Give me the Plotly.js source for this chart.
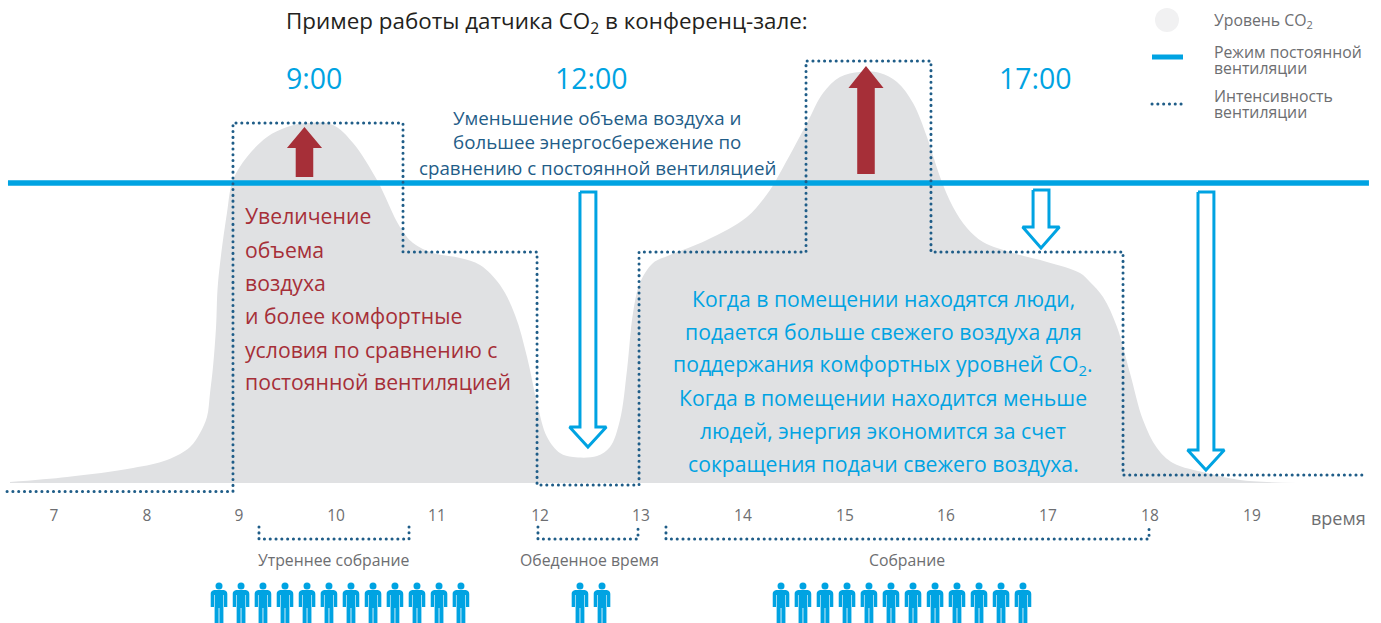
<!DOCTYPE html>
<html><head><meta charset="utf-8">
<script src="https://cdn.plot.ly/plotly-3.0.1.min.js"></script>
<style>
html,body{margin:0;padding:0;background:#fff}
#c{width:1381px;height:623px}
path.js-line[style*="0.1px"]{stroke-linecap:round}
</style></head><body><div id="c"></div>
<script>
// Data: x in hours on the chart's time scale, y = CO2 level (constant ventilation = 100)
const co2Hours=[6.804,7.363,8.010,8.343,8.569,8.667,8.735,8.765,8.794,8.824,8.843,8.931,8.990,9.127,9.324,9.520,9.716,9.971,10.167,10.402,10.627,10.755,10.951,11.216,11.412,11.608,11.755,11.873,11.971,12.069,12.196,12.324,12.559,12.686,12.784,12.853,12.912,12.980,13.108,13.275,13.637,14.029,14.255,14.353,14.618,14.775,14.941,15.137,15.333,15.5,15.657,15.794,15.922,16.049,16.186,16.343,16.637,16.971,17.294,17.392,17.520,17.657,17.784,17.912,18.049,18.206,18.539,18.863,19.422];
const co2Level=[0.33,2,5,7.67,12,16.67,22,30,38.67,52,66.67,90,101,108.67,115.33,118.67,120,119.33,113.33,101,85.33,80,76.67,75,72.67,66,56,42,26.67,15.33,10,8.67,9,12,21,37.67,56.67,66.67,73.33,76,81,88.67,97.67,103.33,120,130,135.33,137,136.67,133.67,126.67,115.33,102,92,85,80.33,76.67,73.67,70,67,62,52,36.67,21,11.67,6.67,3.33,1,0];
const constHours=[6.784,20.127];
const constLevel=[100,100];
const ventHours=[6.775,8.990,8.990,10.657,10.657,11.971,11.971,12.971,12.971,14.608,14.608,15.833,15.833,17.716,17.716,20.108];
const ventLevel=[-2.83,-2.83,120,120,77,77,-0.67,-0.67,77,77,140.67,140.67,77,77,2.67,2.67];
const tickVals=[7.235,8.147,9.049,10,10.990,12,12.990,13.990,14.990,15.980,16.980,17.980,18.980];
const tickText=['7','8','9','10','11','12','13','14','15','16','17','18','19'];
const morningPeople=[8.853,9.069,9.284,9.500,9.716,9.931,10.147,10.363,10.578,10.794,11.010,11.225];
const lunchPeople=[12.392,12.608];
const meetingPeople=[14.363,14.578,14.794,15.010,15.225,15.441,15.657,15.873,16.088,16.304,16.520,16.735];
const periods=[[9.245,10.716],[11.98,12.961],[13.235,17.971]];
const periodNames=['Утреннее собрание','Обеденное время','Собрание'];
const upArrows=[[9.691,118.67,111.67,102],[15.196,139,131.67,103]];
const downArrows=[[12.47,97,18.67,12],[16.912,97.67,85.33,78.33],[18.529,97,11,4.33]];
const clockLabels=['9:00','12:00','17:00'];
const savingLines=['Уменьшение объема воздуха и','большее энергосбережение по','сравнению с постоянной вентиляцией'];
const redLines=['Увеличение','объема','воздуха','и более комфортные','условия по сравнению с','постоянной вентиляцией'];
const blueLines=['Когда в помещении находятся люди,','подается больше свежего воздуха для','поддержания комфортных уровней CO<sub>2</sub>.','Когда в помещении находится меньше','людей, энергия экономится за счет','сокращения подачи свежего воздуха.'];

const BLUE='#00a3e2',DOT='#1f5d88',RED='#a62f38',GREY='#e0e1e3',TXT='#6d6e71';
const DOTDASH='0.1px,5.7px';
const FONT='"Open Sans", sans-serif';
const W=1381,H=623;
const pxH=p=>12+(p-540)/102, pyL=p=>(483-p)/3;
const traces=[];
traces.push({x:co2Hours,y:co2Level,mode:'lines',line:{width:0,shape:'spline',smoothing:1},fill:'tozeroy',fillcolor:GREY,hoverinfo:'skip'});
traces.push({x:constHours,y:constLevel,mode:'lines',line:{color:BLUE,width:5.5},hoverinfo:'skip'});
traces.push({x:ventHours,y:ventLevel,mode:'lines',line:{color:DOT,width:3,dash:DOTDASH},hoverinfo:'skip'});
upArrows.forEach(a=>{const [c,t,h,b]=a,hs=0.086,hh=0.172;
  traces.push({x:[c,c+hh,c+hs,c+hs,c-hs,c-hs,c-hh,c],y:[t,h,h,b,b,h,h,t],mode:'lines',fill:'toself',fillcolor:RED,line:{width:0},hoverinfo:'skip'});});
downArrows.forEach(a=>{const [c,t,h,b]=a,hs=0.078,hh=0.18;
  traces.push({x:[c-hs,c+hs,c+hs,c+hh,c,c-hh,c-hs,c-hs],y:[t,t,h,h,b,h,h,t],mode:'lines',fill:'toself',fillcolor:'#fff',line:{color:BLUE,width:3},hoverinfo:'skip'});});
periods.forEach(p=>{traces.push({x:[p[0],p[0],p[1],p[1]],y:[-14.67,-18.67,-18.67,-14.67],mode:'lines',line:{color:DOT,width:3,dash:DOTDASH},hoverinfo:'skip'});});
const people=[...morningPeople,...lunchPeople,...meetingPeople];
traces.push({x:people,y:people.map(()=>-34.33),mode:'markers',marker:{color:BLUE,size:7,line:{width:0}},hoverinfo:'skip'});
// legend swatches
traces.push({x:[pxH(1167)],y:[pyL(20)],mode:'markers',marker:{color:'#f1f1f2',size:24,line:{width:0}},hoverinfo:'skip'});
traces.push({x:[pxH(1152),pxH(1183)],y:[pyL(57),pyL(57)],mode:'lines',line:{color:BLUE,width:5},hoverinfo:'skip'});
traces.push({x:[pxH(1152),pxH(1186)],y:[pyL(104),pyL(104)],mode:'lines',line:{color:DOT,width:3,dash:DOTDASH},hoverinfo:'skip'});

const lbl=(text,px,py,size,color,anchor)=>({text,xref:'paper',yref:'paper',x:px/W,y:1-py/H,xanchor:anchor||'center',yanchor:'middle',showarrow:false,font:{family:FONT,size,color},align:anchor||'center'});
const ann=[];
ann.push(lbl('Пример работы датчика CO<sub>2</sub> в конференц-зале:',547,22,22.4,'#231f20'));
[314,591,1035].forEach((p,i)=>ann.push(lbl(clockLabels[i],p,78,28.5,BLUE)));
savingLines.forEach((t,i)=>ann.push(lbl(t,597,[117,142,167][i],18.75,DOT)));
redLines.forEach((t,i)=>ann.push(lbl(t,243,[215,249,282,315,349,381][i],21.2,RED,'left')));
blueLines.forEach((t,i)=>ann.push(lbl(t,883,[298,331,364,397,430,463][i],21.2,BLUE)));
[334,589,907].forEach((p,i)=>ann.push(lbl(periodNames[i],p,560,15.8,TXT)));
ann.push(lbl('время',1338,518,18,TXT));
ann.push(lbl('Уровень CO<sub>2</sub>',1212,21,15.8,TXT,'left'));
ann.push(lbl('Режим постоянной',1212,52,15.8,TXT,'left'));
ann.push(lbl('вентиляции',1212,68,15.8,TXT,'left'));
ann.push(lbl('Интенсивность',1212,96,15.8,TXT,'left'));
ann.push(lbl('вентиляции',1212,112,15.8,TXT,'left'));

const bodyPath='M -8.3,-4 C -8.3,-1 -6,0 -4,0 L 4,0 C 6,0 8.3,-1 8.3,-4 L 8.3,-17 L 5,-17 L 5,-5 L 4.4,-5 L 4.4,-34 L 0.4,-34 L 0.4,-18 L -0.4,-18 L -0.4,-34 L -4.4,-34 L -4.4,-5 L -5,-5 L -5,-17 L -8.3,-17 Z';
const shapes=people.map(h=>({type:'path',xref:'x',yref:'y',xsizemode:'pixel',ysizemode:'pixel',xanchor:h,yanchor:-35.67,path:bodyPath,fillcolor:BLUE,line:{width:0},layer:'above'}));

const layout={width:W,height:H,margin:{l:0,r:0,t:0,b:0},paper_bgcolor:'#fff',plot_bgcolor:'rgba(0,0,0,0)',showlegend:false,hovermode:false,
 xaxis:{range:[pxH(0),pxH(W)],anchor:'free',position:0.191,showgrid:false,zeroline:false,showline:false,ticks:'',tickmode:'array',tickvals:tickVals,ticktext:tickText,tickfont:{family:FONT,size:15.5,color:TXT}},
 yaxis:{range:[pyL(H),pyL(0)],showgrid:false,zeroline:false,showline:false,showticklabels:false,ticks:''},
 annotations:ann,shapes};
Plotly.newPlot('c',traces,layout,{displayModeBar:false,staticPlot:true});
</script></body></html>
